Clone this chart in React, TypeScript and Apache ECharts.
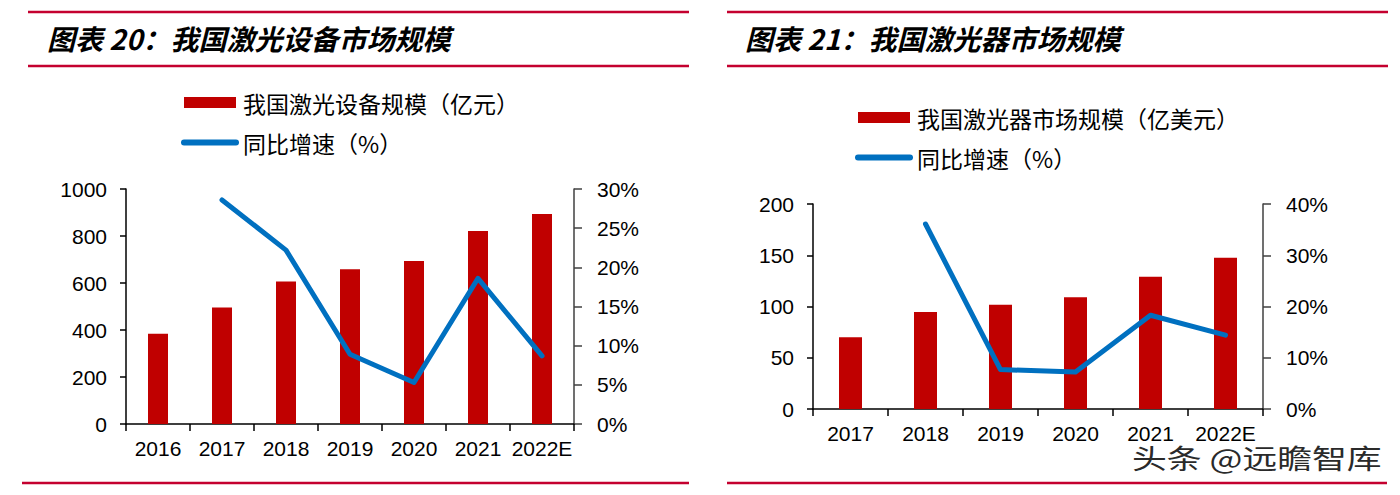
import React, { useEffect, useRef } from "react";
import * as echarts from "echarts";

const years1 = ["2016", "2017", "2018", "2019", "2020", "2021", "2022E"];
const equipScale = [384, 496, 606, 659, 694, 821, 894];
const equipGrowth = [null, 28.6, 22.2, 8.9, 5.3, 18.6, 8.7];

const years2 = ["2017", "2018", "2019", "2020", "2021", "2022E"];
const laserScale = [70, 94.6, 101.8, 109, 129, 147.6];
const laserGrowth = [null, 36.1, 7.7, 7.2, 18.3, 14.4];

const title1 = "图表 20：我国激光设备市场规模";
const title2 = "图表 21：我国激光器市场规模";
const barName1 = "我国激光设备规模（亿元）";
const barName2 = "我国激光器市场规模（亿美元）";
const lineName = "同比增速（%）";
const watermark = "头条 @远瞻智库";

const RED = "#C00000";
const BLUE = "#0070C0";
const RULE = "#C4002F";
const NUM_FONT = "'Liberation Sans', Arial, sans-serif";
const CJK_FONT = "'Noto Sans CJK SC', sans-serif";

export default function App() {
  const ref = useRef<HTMLDivElement>(null);
  useEffect(() => {
    if (!ref.current) return;
    const chart = echarts.init(ref.current, null, { renderer: "svg" });
    const axisLabel = { color: "#000", fontSize: 21, fontFamily: NUM_FONT };
    const catAxis = (grid: number, data: string[]) => ({
      type: "category",
      gridIndex: grid,
      data,
      axisLine: { lineStyle: { color: "#000", width: 1.5 } },
      axisTick: { show: true, length: 7, alignWithLabel: false, interval: 0, lineStyle: { color: "#000", width: 1.5 } },
      axisLabel: { ...axisLabel, margin: 14, interval: 0 },
    });
    const valAxis = (grid: number, max: number, interval: number, right: boolean) => ({
      type: "value",
      gridIndex: grid,
      position: right ? "right" : "left",
      min: 0,
      max,
      interval,
      splitLine: { show: false },
      axisLine: { show: true, lineStyle: { color: right ? "#404040" : "#000", width: 1.5 } },
      axisTick: { show: true, length: right ? 8 : 6, lineStyle: { color: right ? "#404040" : "#000", width: 1.5 } },
      axisLabel: right
        ? { ...axisLabel, margin: 23, formatter: "{value}%" }
        : { ...axisLabel, margin: 19, formatter: (v: number) => String(v) },
    });
    const rule = (x1: number, x2: number, y: number) => ({
      type: "line",
      shape: { x1, y1: y, x2, y2: y },
      style: { stroke: RULE, lineWidth: 2.5 },
      silent: true,
    });
    const legendBase = {
      orient: "vertical",
      padding: 0,
      itemWidth: 52,
      itemHeight: 11,
      itemGap: 17,
      textStyle: { fontSize: 23, color: "#000", fontFamily: CJK_FONT, padding: [0, 0, 0, 2] },
      selectedMode: false,
    };
    const lineLegendItem = {
      name: lineName,
      itemStyle: { opacity: 0 },
      lineStyle: { width: 6, color: BLUE, cap: "round" },
    };
    chart.setOption({
      animation: false,
      backgroundColor: "#fff",
      grid: [
        { left: 126, top: 189, width: 448, height: 235 },
        { left: 813, top: 204, width: 450, height: 205 },
      ],
      xAxis: [catAxis(0, years1), catAxis(1, years2)],
      yAxis: [
        valAxis(0, 1000, 200, false),
        valAxis(0, 30, 5, true),
        valAxis(1, 200, 50, false),
        valAxis(1, 40, 10, true),
      ],
      legend: [
        { ...legendBase, left: 181, top: 91, data: [{ name: barName1, icon: "rect" }, lineLegendItem] },
        { ...legendBase, left: 855, top: 106, data: [{ name: barName2, icon: "rect" }, lineLegendItem] },
      ],
      series: [
        { type: "bar", name: barName1, xAxisIndex: 0, yAxisIndex: 0, data: equipScale, barWidth: 20, itemStyle: { color: RED } },
        {
          type: "line", name: lineName, xAxisIndex: 0, yAxisIndex: 1, data: equipGrowth,
          symbol: "none", lineStyle: { color: BLUE, width: 5, cap: "round", join: "round" }, itemStyle: { color: BLUE },
        },
        { type: "bar", name: barName2, xAxisIndex: 1, yAxisIndex: 2, data: laserScale, barWidth: 23, itemStyle: { color: RED } },
        {
          type: "line", name: lineName, xAxisIndex: 1, yAxisIndex: 3, data: laserGrowth,
          symbol: "none", lineStyle: { color: BLUE, width: 5, cap: "round", join: "round" }, itemStyle: { color: BLUE },
        },
      ],
      graphic: [
        rule(28, 689, 12),
        rule(28, 689, 66),
        rule(727, 1388, 12),
        rule(727, 1388, 66),
        rule(22, 689, 483),
        rule(727, 1387, 483),
        {
          type: "text", left: 47, top: 24, silent: true,
          style: { text: title1, fill: "#000", font: `italic bold 28px ${CJK_FONT}` },
        },
        {
          type: "text", left: 745, top: 24, silent: true,
          style: { text: title2, fill: "#000", font: `italic bold 28px ${CJK_FONT}` },
        },
        {
          type: "text", x: 1132, y: 444, scaleX: 1.29, silent: true, z: 100,
          style: { text: watermark, fill: "#2a2a2a", stroke: "#fff", lineWidth: 2, font: `27px ${CJK_FONT}`, textVerticalAlign: "top" },
        },
      ],
    });
    return () => chart.dispose();
  }, []);
  return (
    <div
      ref={ref}
      style={{ position: "absolute", left: 0, top: 0, width: 1400, height: 495 }}
    />
  );
}
